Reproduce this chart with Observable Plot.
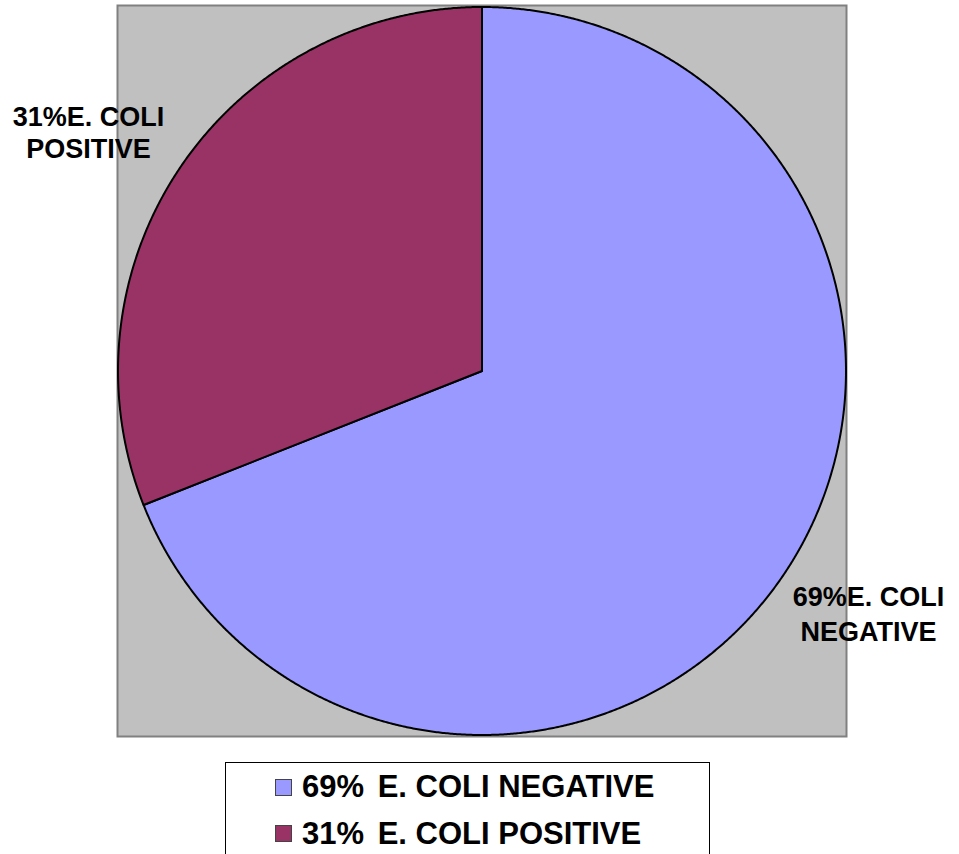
<!DOCTYPE html>
<html><head><meta charset="utf-8">
<script src="https://cdn.jsdelivr.net/npm/d3@7"></script>
<script src="https://cdn.jsdelivr.net/npm/@observablehq/plot@0.6"></script>
<style>
body{margin:0;background:#fff;font-family:"Liberation Sans",Arial,sans-serif;}
#chart{position:absolute;left:0;top:0;}
#legend{position:absolute;left:225px;top:762px;width:485px;height:100px;border:1.5px solid #000;box-sizing:border-box;background:#fff;}
.sw{position:absolute;width:17px;height:17px;box-sizing:border-box;border:1px solid #444;}
.tx{position:absolute;white-space:pre;font-weight:bold;font-size:31px;line-height:31px;color:#000;}
.pc{margin-right:5px;}
</style></head><body><div id="chart"></div><div id="legend"></div>
<script>
const categories = ["E. COLI NEGATIVE", "E. COLI POSITIVE"];
const percents = [69, 31];
const colors = ["#9999FF", "#993366"];
const sliceLabels = ["69%E. COLI\nNEGATIVE", "31%E. COLI\nPOSITIVE"];
const legendPct = ["69%", "31%"];

const R = 364;
const arcs = d3.pie().value(d => d).sort(null)(percents);
const slices = arcs.map((a, i) => {
  const pts = [{x: 0, y: 0}];
  const n = Math.ceil((a.endAngle - a.startAngle) / (Math.PI / 720));
  for (let k = 0; k <= n; k++) {
    const t = a.startAngle + (a.endAngle - a.startAngle) * k / n;
    pts.push({x: R * Math.sin(t), y: R * Math.cos(t)});
  }
  return {pts, color: colors[i]};
});
const labels = arcs.map((a, i) => {
  const m = (a.startAngle + a.endAngle) / 2;
  return {x: 460 * Math.sin(m), y: 460 * Math.cos(m), text: sliceLabels[i]};
});

const chart = Plot.plot({
  width: 959, height: 750,
  marginLeft: 117, marginRight: 113, marginTop: 5, marginBottom: 14,
  x: {domain: [-364.5, 364.5], axis: null},
  y: {domain: [-365.5, 365.5], axis: null},
  style: {fontFamily: '"Liberation Sans", Arial, sans-serif', overflow: "visible", background: "transparent"},
  marks: [
    Plot.frame({fill: "#C0C0C0", stroke: "#808080", strokeWidth: 2}),
    ...slices.map(s => Plot.line(s.pts, {x: "x", y: "y", fill: s.color, stroke: "#000", strokeWidth: 2, curve: "linear-closed"})),
    Plot.text([labels[0]], {x: "x", y: "y", text: "text", fontSize: 27, fontWeight: "bold", fill: "#000", lineHeight: 1.27, dx: 6, dy: -17}),
    Plot.text([labels[1]], {x: "x", y: "y", text: "text", fontSize: 27, fontWeight: "bold", fill: "#000", lineHeight: 1.22, dx: -13, dy: 19})
  ]
});
document.getElementById("chart").appendChild(chart);

const legend = document.getElementById("legend");
categories.forEach((c, i) => {
  const top = i === 0 ? 15 : 61.5;
  const sw = document.createElement("div");
  sw.className = "sw";
  sw.style.left = "49px"; sw.style.top = (top + 0.5) + "px"; sw.style.background = colors[i];
  legend.appendChild(sw);
  const tx = document.createElement("div");
  tx.className = "tx";
  tx.style.left = "76px"; tx.style.top = (top - 7) + "px";
  const pc = document.createElement("span");
  pc.className = "pc";
  pc.textContent = legendPct[i];
  tx.appendChild(pc);
  tx.appendChild(document.createTextNode(" " + c));
  legend.appendChild(tx);
});
</script></body></html>
